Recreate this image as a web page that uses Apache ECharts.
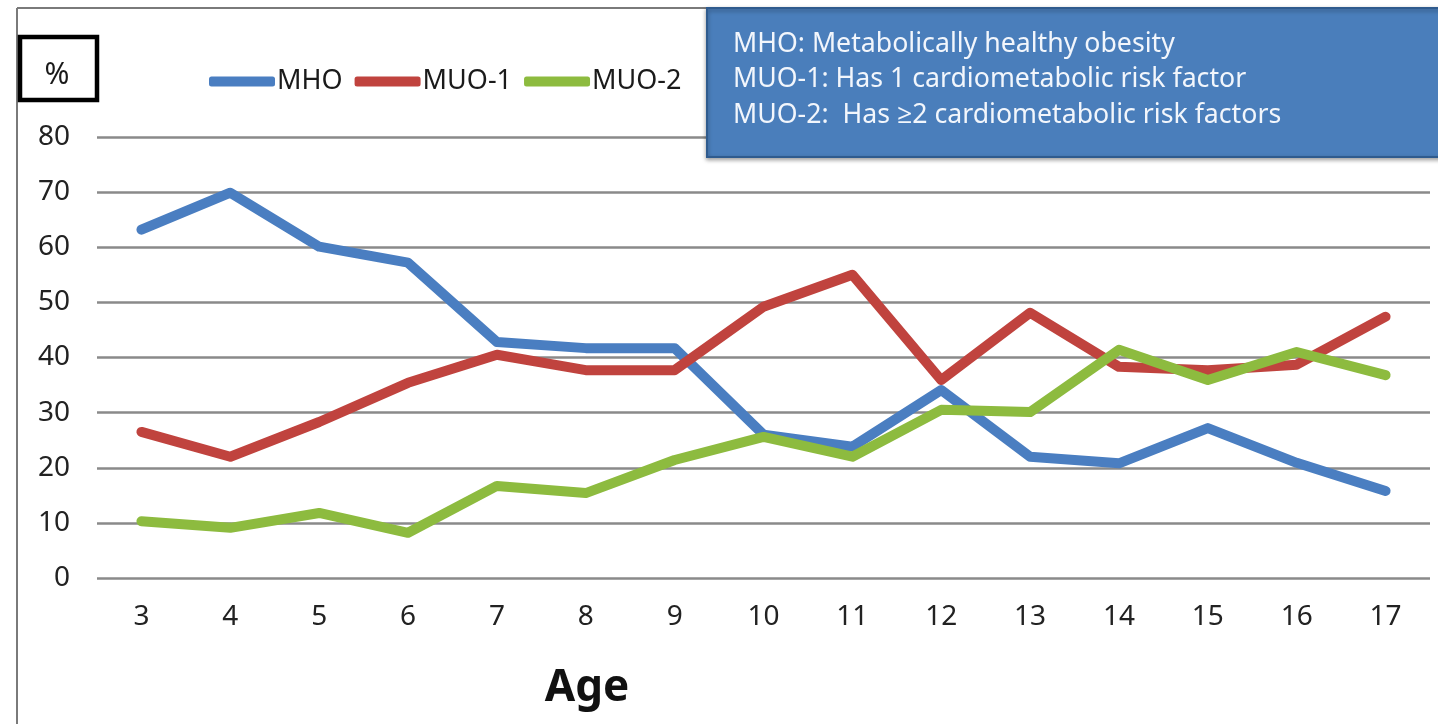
<!DOCTYPE html>
<html>
<head>
<meta charset="utf-8">
<script src="https://cdn.jsdelivr.net/npm/echarts@6/dist/echarts.min.js"></script>
<style>
  html, body { margin: 0; padding: 0; background: #ffffff; }
  #chart { width: 1438px; height: 724px; }
</style>
</head>
<body>
<div id="chart"></div>
<script>
// Age groups (years)
const ages = ['3', '4', '5', '6', '7', '8', '9', '10', '11', '12', '13', '14', '15', '16', '17'];

// Share of children in each phenotype, percent
const mho  = [63.2, 69.9, 60.1, 57.2, 42.8, 41.7, 41.7, 26.0, 23.8, 34.1, 22.0, 20.8, 27.2, 20.9, 15.8];
const muo1 = [26.5, 22.0, 28.3, 35.4, 40.5, 37.7, 37.7, 49.2, 55.0, 35.9, 48.1, 38.3, 37.7, 38.7, 47.4];
const muo2 = [10.3,  9.1, 11.8,  8.2, 16.7, 15.4, 21.4, 25.6, 22.0, 30.5, 30.1, 41.4, 35.9, 41.0, 36.8];

const seriesNames = ['MHO', 'MUO-1', 'MUO-2'];
const seriesColors = ['#4A7EC1', '#C0433E', '#8DBB3F'];

const definitions = [
  'MHO: Metabolically healthy obesity',
  'MUO-1: Has 1 cardiometabolic risk factor',
  'MUO-2:  Has \u22652 cardiometabolic risk factors'
];

const FONT = '"Noto Sans", "Open Sans", sans-serif';

const chart = echarts.init(document.getElementById('chart'), null, { renderer: 'canvas' });

function lineSeries(name, data, color) {
  return {
    name: name,
    type: 'line',
    data: data,
    symbol: 'none',
    color: color,
    lineStyle: { width: 10, color: color, cap: 'round', join: 'round' },
    emphasis: { disabled: true },
    animation: false
  };
}

const option = {
  backgroundColor: '#ffffff',
  animation: false,
  grid: {
    left: 97, right: 8, top: 137, bottom: 146,
    containLabel: false,
    outerBoundsMode: 'none'
  },
  legend: {
    data: seriesNames,
    left: 204,
    top: 63,
    icon: 'roundRect',
    itemWidth: 66,
    itemHeight: 10,
    itemGap: 12,
    selectedMode: false,
    textStyle: { fontFamily: FONT, fontSize: 27, color: '#1a1a1a', padding: [0, 0, 0, -3] }
  },
  xAxis: {
    type: 'category',
    data: ages,
    boundaryGap: true,
    axisLine: { show: false },
    axisTick: { show: false },
    axisLabel: { fontFamily: FONT, fontSize: 28, color: '#222222', margin: 25 },
    splitLine: { show: false }
  },
  yAxis: {
    type: 'value',
    min: 0,
    max: 80,
    interval: 10,
    axisLine: { show: false },
    axisTick: { show: false },
    axisLabel: { fontFamily: FONT, fontSize: 28, color: '#222222', margin: 27 },
    splitLine: { show: true, lineStyle: { color: '#8a8a8a', width: 2.5 } }
  },
  series: [
    lineSeries(seriesNames[0], mho, seriesColors[0]),
    lineSeries(seriesNames[1], muo1, seriesColors[1]),
    lineSeries(seriesNames[2], muo2, seriesColors[2])
  ],
  graphic: [
    // outer frame edges
    { type: 'line', shape: { x1: 17, y1: 8, x2: 17, y2: 724 }, style: { stroke: '#7a7a7a', lineWidth: 2 }, z: 1 },
    { type: 'line', shape: { x1: 17, y1: 8, x2: 710, y2: 8 }, style: { stroke: '#7a7a7a', lineWidth: 2 }, z: 1 },
    // unit box
    { type: 'rect', shape: { x: 20, y: 37, width: 77, height: 63 }, style: { fill: '#ffffff', stroke: '#000000', lineWidth: 4.5 }, z: 5 },
    { type: 'text', x: 57, y: 75, style: { text: '%', fontFamily: FONT, fontSize: 30, fill: '#1a1a1a', align: 'center', verticalAlign: 'middle' }, z: 6 },
    // definitions panel
    {
      type: 'rect',
      shape: { x: 707, y: 8, width: 740, height: 149 },
      style: { fill: '#4A7EBB', stroke: '#2F5B8E', lineWidth: 2, shadowBlur: 4, shadowColor: 'rgba(0,0,0,0.35)', shadowOffsetY: 2 },
      z: 10
    },
    { type: 'text', x: 733, y: 44, style: { text: definitions[0], fontFamily: FONT, fontSize: 26.7, fill: '#f2f6fc', verticalAlign: 'middle' }, z: 11 },
    { type: 'text', x: 733, y: 79, style: { text: definitions[1], fontFamily: FONT, fontSize: 26.7, fill: '#f2f6fc', verticalAlign: 'middle' }, z: 11 },
    { type: 'text', x: 733, y: 115, style: { text: definitions[2], fontFamily: FONT, fontSize: 26.7, fill: '#f2f6fc', verticalAlign: 'middle' }, z: 11 },
    // axis title
    { type: 'text', x: 587, y: 688, style: { text: 'Age', fontFamily: FONT, fontSize: 44, fontWeight: 'bold', fill: '#111111', align: 'center', verticalAlign: 'middle' }, z: 6 }
  ]
};

chart.setOption(option);
</script>
</body>
</html>
